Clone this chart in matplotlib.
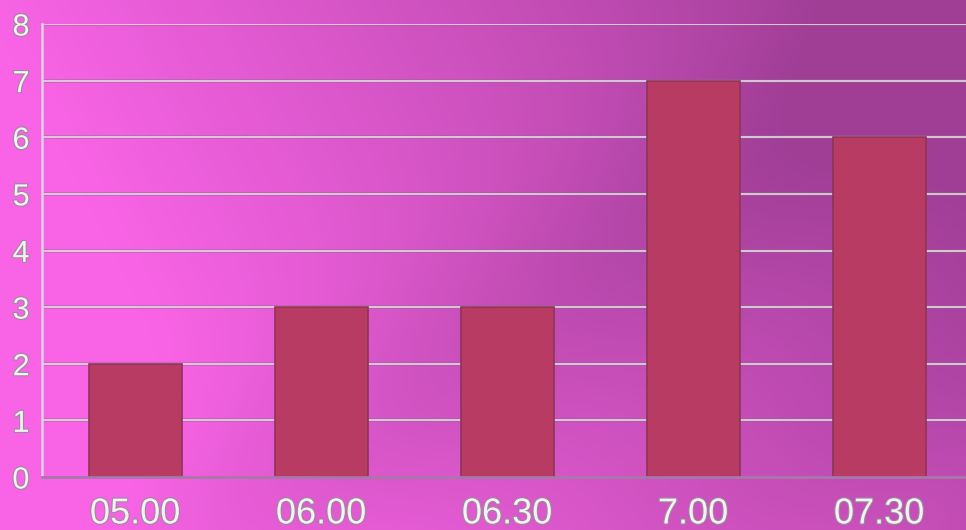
import numpy as np
import matplotlib
matplotlib.use("Agg")
from matplotlib import pyplot as plt
from matplotlib import patheffects as pe
from matplotlib.colors import to_rgb

# data
categories = ["05.00", "06.00", "06.30", "7.00", "07.30"]
values = [2, 3, 3, 7, 6]
yticks = [0, 1, 2, 3, 4, 5, 6, 7, 8]

W, H = 966, 530
fig = plt.figure(figsize=(W / 100, H / 100), dpi=100)

# background gradient (pink -> purple, with soft diagonal streaks)
bg_ax = fig.add_axes([0, 0, 1, 1])
yy, xx = np.mgrid[0:H, 0:W]
xn = xx / W
yn = yy / H
u = 1.05 * xn - 0.3 * yn + 0.02
# darker band across the middle, lighter towards the bottom right
v = xn * 0.55 + yn * 0.45
u = u + 0.2 * np.exp(-((v - 0.57) / 0.11) ** 2) - 0.15 * np.exp(-((v - 0.97) / 0.08) ** 2)
u = np.clip(u, 0, 1)
bright = np.array(to_rgb("#f964e6"))
dark = np.array(to_rgb("#a03e96"))
img = bright[None, None, :] * (1 - u[..., None]) + dark[None, None, :] * u[..., None]
bg_ax.imshow(img, aspect="auto", extent=[0, 1, 0, 1], origin="upper")
bg_ax.axis("off")

# main chart
ax = fig.add_axes([42 / W, 53 / H, 930 / W, 453 / H])
ax.patch.set_alpha(0)
x = np.arange(len(categories))
ax.set_xlim(-0.5, len(categories) - 0.5)
ax.set_ylim(0, 8)

for t in yticks[1:]:
    ax.axhline(t, color="#8a6a8a", lw=2.6, zorder=1, alpha=0.5)
    ax.axhline(t, color="#e4d8e4", lw=1.2, zorder=1.1)

ax.bar(x, values, width=0.5, color="#b83b63", edgecolor="#8f3456", linewidth=1.2, zorder=2)

for s in ["top", "right"]:
    ax.spines[s].set_visible(False)
ax.spines["left"].set_color("#e0d0e0")
ax.spines["left"].set_linewidth(1.8)
ax.spines["bottom"].set_color("#a878a8")
ax.spines["bottom"].set_linewidth(2)

ax.set_yticks(yticks)
ax.set_xticks(x)
ax.set_xticklabels(categories)
ax.tick_params(length=0)
ax.tick_params(axis="y", pad=9)
ax.tick_params(axis="x", pad=14)

outline = [pe.withStroke(linewidth=1.6, foreground="#9a8a9a")]
for lab in ax.get_yticklabels():
    lab.set_fontfamily("Liberation Sans")
    lab.set_fontsize(22)
    lab.set_color("#f4f0f4")
    lab.set_path_effects(outline)
for lab in ax.get_xticklabels():
    lab.set_fontfamily("Liberation Sans")
    lab.set_fontsize(26)
    lab.set_color("#f4f0f4")
    lab.set_path_effects(outline)

fig.savefig("out.png", dpi=100)
